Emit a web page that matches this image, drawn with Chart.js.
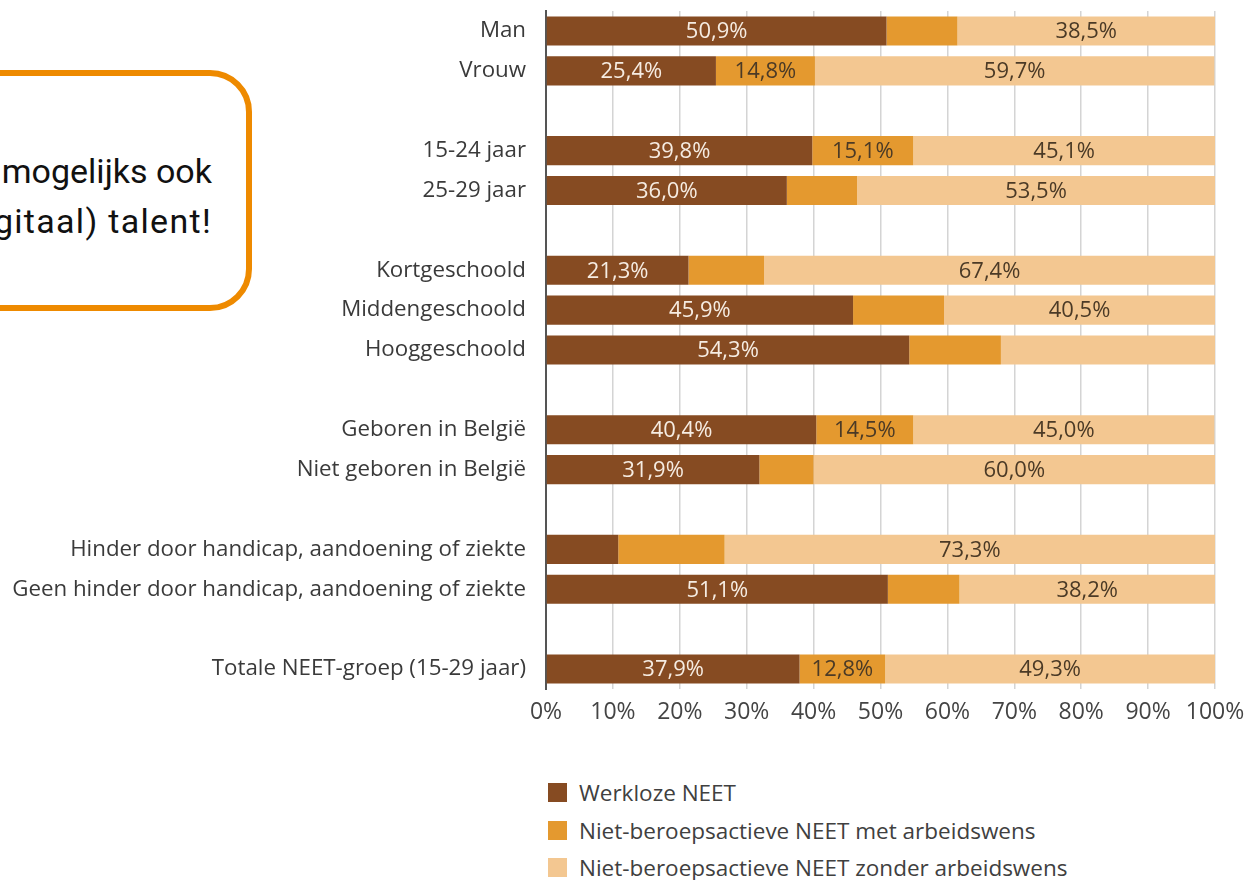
<!DOCTYPE html>
<html>
<head>
<meta charset="utf-8">
<script src="https://cdn.jsdelivr.net/npm/chart.js@4"></script>
<style>
  html, body { margin: 0; padding: 0; background: #fff; overflow: hidden; }
  body { width: 1247px; height: 880px; position: relative; font-family: "Open Sans", sans-serif; }
  #wrap { position: absolute; left: 0; top: 0; width: 1247px; height: 735px; }
  #callout {
    position: absolute; left: -400px; top: 70px; width: 640px; height: 229px;
    border: 6px solid #ee8a00; border-radius: 42px; box-sizing: content-box;
  }
  #callout div {
    position: absolute; right: 34px; font-family: Roboto, sans-serif; font-size: 34px;
    color: #111; white-space: nowrap; line-height: 1;
  }
  #legend { position: absolute; left: 548px; top: 774px; }
  #legend .item { height: 37.5px; display: flex; align-items: center; font-size: 22.5px; color: #404040; }
  #legend .box { width: 19px; height: 19px; margin-right: 12px; }
</style>
</head>
<body>
<div id="callout">
  <div style="top: 78px;">mogelijks ook</div>
  <div style="top: 128px; letter-spacing: 1.3px;">(digitaal) talent!</div>
</div>
<div id="wrap"><canvas id="myChart"></canvas></div>
<div id="legend"></div>
<script>
//region Data
const categories = ['Man', 'Vrouw', '', '15-24 jaar', '25-29 jaar', '', 'Kortgeschoold', 'Middengeschoold', 'Hooggeschoold', '',
    'Geboren in België', 'Niet geboren in België', '', 'Hinder door handicap, aandoening of ziekte',
    'Geen hinder door handicap, aandoening of ziekte', '', 'Totale NEET-groep (15-29 jaar)'];
const werkloos = [50.9, 25.4, null, 39.8, 36.0, null, 21.3, 45.9, 54.3, null, 40.4, 31.9, null, 10.8, 51.1, null, 37.9];
const metWens = [10.6, 14.8, null, 15.1, 10.5, null, 11.3, 13.6, 13.7, null, 14.5, 8.1, null, 15.9, 10.7, null, 12.8];
const zonderWens = [38.5, 59.7, null, 45.1, 53.5, null, 67.4, 40.5, 32.0, null, 45.0, 60.0, null, 73.3, 38.2, null, 49.3];
// welke waarden een label krijgen in de figuur
const toonWerkloos = [1, 1, 0, 1, 1, 0, 1, 1, 1, 0, 1, 1, 0, 0, 1, 0, 1];
const toonMetWens = [0, 1, 0, 1, 0, 0, 0, 0, 0, 0, 1, 0, 0, 0, 0, 0, 1];
const toonZonderWens = [1, 1, 0, 1, 1, 0, 1, 1, 0, 0, 1, 1, 0, 1, 1, 0, 1];
const xTicks = [0, 10, 20, 30, 40, 50, 60, 70, 80, 90, 100];
//endregion

//region Labels op de balken
const barLabels = {
    id: 'barLabels',
    afterDatasetsDraw(chart) {
        const c = chart.ctx;
        c.save();
        c.font = '22px "Open Sans", sans-serif';
        c.textAlign = 'center';
        c.textBaseline = 'middle';
        chart.data.datasets.forEach(function (ds, i) {
            const meta = chart.getDatasetMeta(i);
            meta.data.forEach(function (bar, j) {
                if (ds.data[j] == null || !ds.show[j]) return;
                const x = (bar.x + bar.base) / 2;
                c.fillStyle = ds.labelColor;
                c.fillText(ds.data[j].toFixed(1).replace('.', ',') + '%', x, bar.y + 1);
            });
        });
        c.restore();
    }
};
//endregion

const ctx = document.getElementById('myChart');
let chart = new Chart(ctx, {
    type: 'bar',
    data: {
        labels: categories,
        datasets: [{
            label: 'Werkloze NEET',
            data: werkloos,
            show: toonWerkloos,
            backgroundColor: '#864b22',
            labelColor: '#f6ece2'
        }, {
            label: 'Niet-beroepsactieve NEET met arbeidswens',
            data: metWens,
            show: toonMetWens,
            backgroundColor: '#e4992f',
            labelColor: '#4b3a26'
        }, {
            label: 'Niet-beroepsactieve NEET zonder arbeidswens',
            data: zonderWens,
            show: toonZonderWens,
            backgroundColor: '#f3c791',
            labelColor: '#4b3a26'
        }]
    },
    options: {
        indexAxis: 'y',
        responsive: true,
        maintainAspectRatio: false,
        animation: false,
        layout: { padding: { top: 11, right: 32, left: 0, bottom: 0 } },
        categoryPercentage: 1,
        barPercentage: 0.73,
        plugins: {
            legend: { display: false },
            tooltip: { enabled: false }
        },
        scales: {
            x: {
                stacked: true,
                min: 0,
                max: 100,
                afterBuildTicks: function (scale) {
                    scale.ticks = xTicks.map(function (v) { return { value: v }; });
                },
                afterFit: function (scale) {
                    scale.height = 46;
                    scale.paddingLeft = 0;
                    scale.paddingRight = 0;
                },
                border: { display: false },
                grid: { color: '#d4d4d4', lineWidth: 1.5, drawTicks: false },
                ticks: {
                    padding: 10,
                    color: '#444',
                    autoSkip: false,
                    maxRotation: 0,
                    minRotation: 0,
                    font: { family: '"Open Sans", sans-serif', size: 23 },
                    callback: function (v) { return v + '%'; }
                }
            },
            y: {
                stacked: true,
                afterFit: function (scale) {
                    scale.width = 546;
                    scale.paddingTop = 0;
                    scale.paddingBottom = 0;
                },
                border: { display: true, color: '#555', width: 2 },
                grid: { display: false, drawTicks: false },
                ticks: {
                    padding: 20,
                    color: '#3a3a3a',
                    font: { family: '"Open Sans", sans-serif', size: 22.3 }
                }
            }
        }
    },
    plugins: [barLabels]
});

//region Legenda
const legend = document.getElementById('legend');
chart.data.datasets.forEach(function (ds) {
    const item = document.createElement('div');
    item.className = 'item';
    item.innerHTML = '<span class="box" style="background:' + ds.backgroundColor + '"></span>' + ds.label;
    legend.appendChild(item);
});
//endregion
</script>
</body>
</html>
